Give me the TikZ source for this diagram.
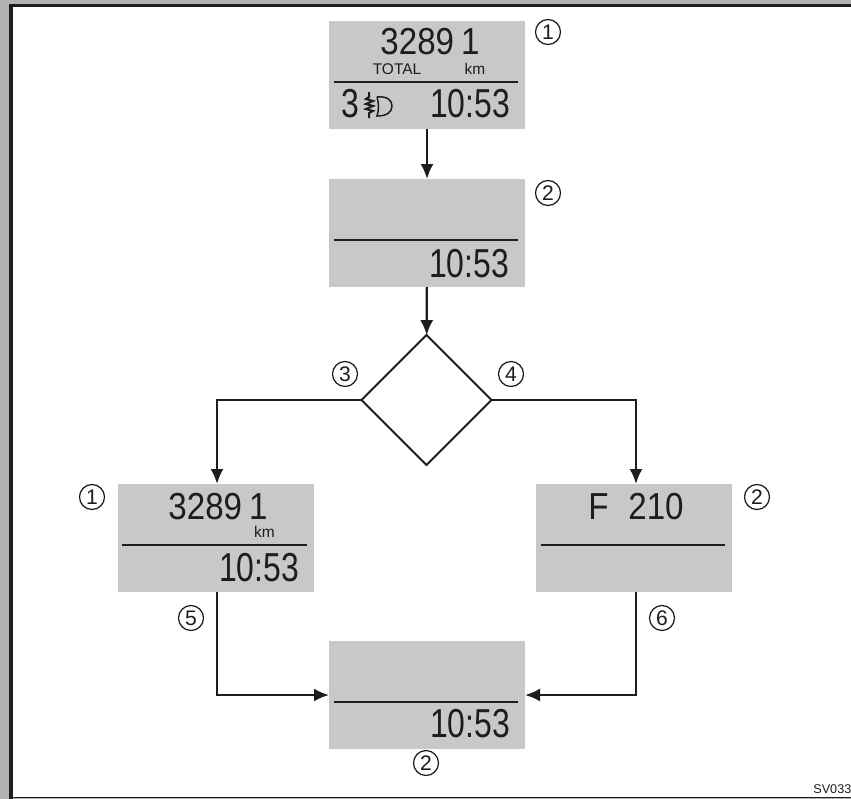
\documentclass[tikz,border=0pt]{standalone}
\usepackage{fontspec}
\setmainfont{Liberation Sans}
\newfontfamily\lcdfont[FakeStretch=0.79]{Liberation Sans}
\newfontfamily\lcdwidefont[FakeStretch=0.88]{Liberation Sans}
\usetikzlibrary{arrows.meta, positioning, shapes.geometric}
\definecolor{PanelGray}{RGB}{198,200,202}
\definecolor{FrameGray}{RGB}{176,178,180}
\definecolor{InkBlack}{RGB}{30,28,28}
\tikzset{
  >=Latex,
  % Pannelli del display
  panel/.style={fill=PanelGray,minimum width=39.2mm,minimum height=21.6mm,inner sep=0,outer sep=0},
  choice/.style={diamond,draw=InkBlack,line width=0.4mm,minimum width=26mm,minimum height=26mm,aspect=1,inner sep=0,outer sep=0},
  % Testi
  lcd/.style={InkBlack,inner sep=0,font=\lcdfont\fontsize{23}{23}\selectfont},
  lcd small/.style={InkBlack,inner sep=0,font=\lcdwidefont\fontsize{21.4}{22}\selectfont},
  tag/.style={InkBlack,inner sep=0,font=\fontsize{8.8}{9}\selectfont},
  callout/.style={circle,draw=InkBlack,line width=0.25mm,minimum size=5mm,inner sep=0,font=\fontsize{12}{12}\selectfont,text=InkBlack},
  % Connessioni
  connect/.style={line width=0.45mm,InkBlack},
  connect arrow/.style={connect,-{Latex[length=3mm,width=2.6mm]}},
  divider/.style={line width=0.25mm,InkBlack}
}
\begin{document}
\begin{tikzpicture}[x=0.2mm,y=-0.2mm]
  \path[use as bounding box,clip] (0,0) rectangle (851,799);
  % Cornice
  \fill[FrameGray] (0,0) rectangle (851,799);
  \fill[white] (11,5) rectangle (860,797);
  \draw[line width=0.7mm,InkBlack] (11,860) -- (11,5.5) -- (860,5.5);
  \draw[divider] (11,797.5) -- (860,797.5);
  % Pannelli
  \node[panel] (top) at (427,75) {};
  \node[panel] (blank) at (427,233) {};
  \node[choice] (choice) at (426.5,400) {};
  \node[panel] (left) at (216,538) {};
  \node[panel] (right) at (634,538) {};
  \node[panel] (bottom) at (427,695) {};
  \foreach \p in {top,blank,left,right,bottom}
    \draw[divider] ([xshift=0.9mm,yshift=-1.4mm]\p.west) -- ([xshift=-1.4mm,yshift=-1.4mm]\p.east);
  % Cifre
  \node[lcd small] (odo) at (430,42) {3289\kern4pt1};
  \node[tag] (total) at (397,69) {TOTAL};
  \node[tag] (unit) at (475,69) {km};
  \node[lcd] (gear) at (350.5,104) {3};
  \node[lcd] (clock) at (470,104) {10:53};
  \draw[InkBlack,line width=0.3mm] (377,97) .. controls (387,96) and (392,100) .. (392,106) .. controls (392,112) and (387,116) .. (377,116) .. controls (379,110) and (379,103) .. (377,97);
  \draw[InkBlack,line width=0.4mm] (369,92) -- (369,97) -- (366,99) -- (373,101) -- (366,104) -- (373,106) -- (366,109) -- (373,111) -- (369,113) -- (369,118);
  \node[lcd] (clock blank) at (469,264) {10:53};
  \node[lcd small] (odo left) at (218,507) {3289\kern4pt1};
  \node[tag] (unit left) at (264.5,532) {km};
  \node[lcd] (clock left) at (259,568) {10:53};
  \node[lcd small] (fuel) at (636,507) {F\ \kern6pt 210};
  \node[lcd] (clock bottom) at (470,724) {10:53};
  % Numeri
  \node[callout] (n1) at (548,32) {1};
  \node[callout] (n2) at (548,193) {2};
  \node[callout] (n3) at (345,374) {3};
  \node[callout] (n4) at (511,374) {4};
  \node[callout] (n1 left) at (92,497) {1};
  \node[callout] (n2 right) at (757,497) {2};
  \node[callout] (n5) at (191,618) {5};
  \node[callout] (n6) at (662,618) {6};
  \node[callout] (n2 bottom) at (426,763) {2};
  \node[anchor=base west,inner sep=0,text=InkBlack,font=\fontsize{7.2}{8}\selectfont] (code) at (813,793) {SV033};
  % Frecce
  \draw[connect arrow] (top) -- (blank);
  \draw[connect arrow] (blank) -- (choice);
  \draw[connect arrow] (choice.west) -| ([xshift=0.2mm]left.north);
  \draw[connect arrow] (choice.east) -| ([xshift=0.4mm]right.north);
  \draw[connect arrow] ([xshift=0.2mm]left.south) |- (bottom.west);
  \draw[connect arrow] ([xshift=0.4mm]right.south) |- (bottom.east);
\end{tikzpicture}
\end{document}
